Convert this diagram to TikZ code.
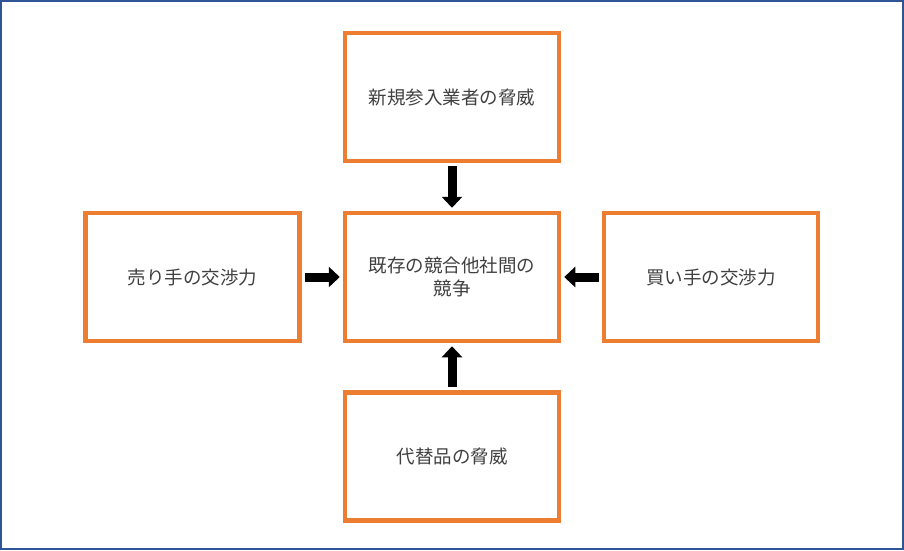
\documentclass[tikz,border=0pt]{standalone}
\usepackage{fontspec}
\newfontfamily\jpfont{Noto Sans CJK JP}
\usetikzlibrary{arrows.meta}
\usepackage{xcolor}
\definecolor{boxorange}{HTML}{ED7D31}
\definecolor{frameblue}{HTML}{2F5597}
\definecolor{textgray}{HTML}{404040}

\begin{document}
\begin{tikzpicture}[
    x=1pt, y=-1pt,
    every node/.style={draw=boxorange, line width=4.5pt, minimum width=214pt, minimum height=128pt, inner sep=0pt, align=center, text=textgray, font=\jpfont\fontsize{18.5}{22.5}\selectfont},
    arr/.style={line width=9pt, -{Triangle[width=20pt,length=11pt]}, shorten <=3pt, shorten >=3pt}
]
    \useasboundingbox (0,0) rectangle (904,550);
    \draw[frameblue, line width=1.6pt] (0.8,0.8) rectangle (903.2,549.2);

    % boxes
    \node (entry) at (452,97) {新規参入業者の脅威};
    \node (rivalry) at (452,277) {既存の競合他社間の\\競争};
    \node (seller) at (192.5,277) {売り手の交渉力};
    \node (buyer) at (711,277) {買い手の交渉力};
    \node (subst) at (452,456.5) {代替品の脅威};

    % forces
    \draw[arr] (entry) -- (rivalry);
    \draw[arr] (seller) -- (rivalry);
    \draw[arr] (buyer) -- (rivalry);
    \draw[arr] (subst) -- (rivalry);
\end{tikzpicture}
\end{document}
